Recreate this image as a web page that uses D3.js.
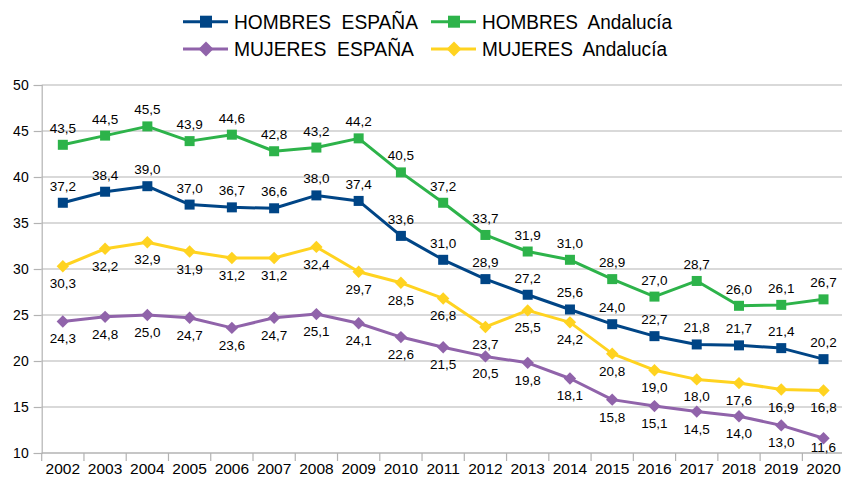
<!DOCTYPE html>
<html>
<head>
<meta charset="utf-8">
<script src="https://cdn.jsdelivr.net/npm/d3@7"></script>
<style>
  body { margin: 0; background: #fff; }
  svg { display: block; font-family: "Liberation Sans", Arial, sans-serif; }
</style>
</head>
<body>
<div id="chart"></div>
<script>
"use strict";
var years = [2002,2003,2004,2005,2006,2007,2008,2009,2010,2011,2012,2013,2014,2015,2016,2017,2018,2019,2020];
var hombresEspana = [37.2,38.4,39.0,37.0,36.7,36.6,38.0,37.4,33.6,31.0,28.9,27.2,25.6,24.0,22.7,21.8,21.7,21.4,20.2];
var hombresAndalucia = [43.5,44.5,45.5,43.9,44.6,42.8,43.2,44.2,40.5,37.2,33.7,31.9,31.0,28.9,27.0,28.7,26.0,26.1,26.7];
var mujeresEspana = [24.3,24.8,25.0,24.7,23.6,24.7,25.1,24.1,22.6,21.5,20.5,19.8,18.1,15.8,15.1,14.5,14.0,13.0,11.6];
var mujeresAndalucia = [30.3,32.2,32.9,31.9,31.2,31.2,32.4,29.7,28.5,26.8,23.7,25.5,24.2,20.8,19.0,18.0,17.6,16.9,16.8];
var yTicks = [10,15,20,25,30,35,40,45,50];

var series = [
  {name: "HOMBRES  ESPAÑA", values: hombresEspana, color: "#004586", marker: "square", above: true},
  {name: "HOMBRES  Andalucía", values: hombresAndalucia, color: "#2db34a", marker: "square", above: true},
  {name: "MUJERES  ESPAÑA", values: mujeresEspana, color: "#9063aa", marker: "diamond", above: false},
  {name: "MUJERES  Andalucía", values: mujeresAndalucia, color: "#ffd320", marker: "diamond", above: false}
];

var W = 842, H = 484;
var plotLeft = 41.7, plotRight = plotLeft + 19 * 42.26, plotTop = 85, plotBottom = 453;

var svg = d3.select("#chart").append("svg")
  .attr("width", W)
  .attr("height", H);

var x = d3.scaleBand().domain(years).range([plotLeft, plotRight]);
var y = d3.scaleLinear().domain([10, 50]).range([plotBottom, plotTop]);
var fmt = function(v) { return d3.format(".1f")(v).replace(".", ","); };

// grid
svg.append("g").selectAll("line")
  .data(yTicks)
  .enter().append("line")
    .attr("x1", plotLeft).attr("x2", W)
    .attr("y1", function(d) { return y(d); })
    .attr("y2", function(d) { return y(d); })
    .attr("stroke", "#b3b3b3")
    .attr("stroke-width", 1.2);

// y axis
var yAxis = svg.append("g")
  .attr("transform", "translate(" + plotLeft + ",0)")
  .call(d3.axisLeft(y).tickValues(yTicks).tickSize(8).tickPadding(5).tickFormat(d3.format("d")));
yAxis.select(".domain").attr("stroke", "#b3b3b3").attr("stroke-width", 1.2);
yAxis.selectAll(".tick line").attr("stroke", "#b3b3b3").attr("stroke-width", 1.2);
yAxis.selectAll("text").attr("font-size", 14).attr("fill", "#000")
  .attr("font-family", "Liberation Sans, Arial, sans-serif");

// x axis: ticks at category boundaries
var xAxis = svg.append("g")
  .attr("transform", "translate(0," + plotBottom + ")");
xAxis.append("line")
  .attr("x1", plotLeft).attr("x2", W).attr("y1", 0).attr("y2", 0)
  .attr("stroke", "#b3b3b3").attr("stroke-width", 1.2);
xAxis.selectAll("line.tk")
  .data(years)
  .enter().append("line")
    .attr("class", "tk")
    .attr("x1", function(d) { return x(d); })
    .attr("x2", function(d) { return x(d); })
    .attr("y1", 0).attr("y2", 8)
    .attr("stroke", "#b3b3b3").attr("stroke-width", 1.2);
xAxis.selectAll("text")
  .data(years)
  .enter().append("text")
    .attr("x", function(d) { return x(d) + x.bandwidth() / 2; })
    .attr("y", 21)
    .attr("text-anchor", "middle")
    .attr("font-size", 15.5)
    .text(function(d) { return d; });

var cx = function(d, i) { return x(years[i]) + x.bandwidth() / 2; };

var line = d3.line()
  .x(function(d, i) { return cx(d, i); })
  .y(function(d) { return y(d); });

var drawMarker = function(sel, type, size, color) {
  if (type === "square") {
    sel.append("rect")
      .attr("x", -size / 2).attr("y", -size / 2)
      .attr("width", size).attr("height", size)
      .attr("fill", color);
  } else {
    var r = size * 0.62;
    sel.append("path")
      .attr("d", "M0," + (-r) + "L" + r + ",0L0," + r + "L" + (-r) + ",0Z")
      .attr("fill", color);
  }
};

series.forEach(function(s) {
  var g = svg.append("g");
  g.append("path")
    .datum(s.values)
    .attr("d", line)
    .attr("fill", "none")
    .attr("stroke", s.color)
    .attr("stroke-width", 3)
    .attr("stroke-linejoin", "round");
  g.selectAll("g.pt")
    .data(s.values)
    .enter().append("g")
      .attr("class", "pt")
      .attr("transform", function(d, i) { return "translate(" + cx(d, i) + "," + y(d) + ")"; })
      .each(function() { drawMarker(d3.select(this), s.marker, 10, s.color); });
});

// data labels on top (kept inside the plot area, like the original)
series.forEach(function(s) {
  svg.append("g").selectAll("text")
    .data(s.values)
    .enter().append("text")
      .attr("x", function(d, i) { return cx(d, i); })
      .attr("y", function(d) { return s.above ? y(d) - 12 : Math.min(y(d) + 22, plotBottom - 1); })
      .attr("text-anchor", "middle")
      .attr("font-size", 13.5)
      .attr("fill", "#000")
      .text(fmt);
});

// legend
var legendPos = [
  {x: 183, y: 21.7, w: 184},
  {x: 431, y: 21.7, w: 190},
  {x: 183, y: 49, w: 180},
  {x: 431, y: 49, w: 185}
];
series.forEach(function(s, i) {
  var p = legendPos[i];
  var lg = svg.append("g").attr("transform", "translate(" + p.x + "," + p.y + ")");
  lg.append("line")
    .attr("x1", 0).attr("x2", 45).attr("y1", 0).attr("y2", 0)
    .attr("stroke", s.color).attr("stroke-width", 3);
  var m = lg.append("g").attr("transform", "translate(23,0)");
  drawMarker(m, s.marker, 12, s.color);
  lg.append("text")
    .attr("x", 51)
    .attr("y", 7)
    .attr("font-size", 19.5)
    .attr("textLength", p.w)
    .attr("lengthAdjust", "spacingAndGlyphs")
    .style("white-space", "pre")
    .text(s.name);
});
</script>
</body>
</html>
